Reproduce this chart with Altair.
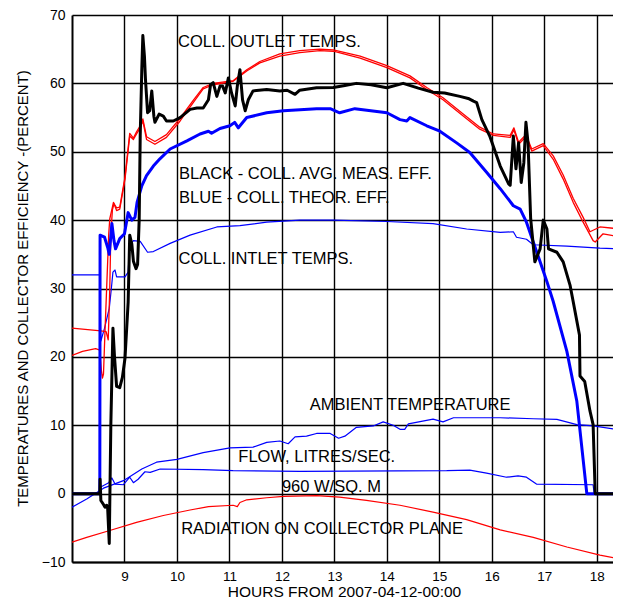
import altair as alt
import pandas as pd

# ---------------- data ----------------
BLACK_H = [8.0, 8.53, 8.535, 8.55, 8.60, 8.63, 8.66, 8.68, 8.71, 8.74, 8.78, 8.81, 8.85, 8.91, 8.96,
           9.01, 9.07, 9.10, 9.14, 9.17, 9.22, 9.25, 9.28, 9.30, 9.33, 9.35, 9.38, 9.40, 9.44, 9.48,
           9.52, 9.56, 9.58, 9.66, 9.74, 9.80, 9.93, 10.06, 10.25, 10.38, 10.5, 10.6, 10.64, 10.69,
           10.76, 10.82, 10.87, 10.92, 10.98, 11.04, 11.11, 11.15, 11.20, 11.25, 11.30, 11.36, 11.45,
           11.71, 11.96, 12.1, 12.25, 12.34, 12.66, 12.98, 13.2, 13.42, 13.7, 14.0, 14.31, 14.6,
           14.88, 15.1, 15.39, 15.55, 15.65, 15.71, 15.81, 15.96, 16.16, 16.32, 16.35, 16.41, 16.46,
           16.51, 16.56, 16.61, 16.65, 16.69, 16.74, 16.82, 16.92, 16.98, 17.05, 17.08, 17.24, 17.36,
           17.49, 17.55, 17.67, 17.68, 17.77, 17.87, 17.93, 17.97, 18.46]
BLACK_V = [0, 0, 2.1, -1.0, -1.6, -2.0, -1.7, -2.2, -7.3, 10, 24.2, 20, 15.7, 15.5, 17,
           19.8, 28, 37.8, 36.5, 34, 32.9, 33.5, 40, 52.4, 62, 67.0, 64, 60.6, 55.7, 56,
           58.9, 55.2, 54.3, 55.5, 55.2, 54.5, 54.5, 55.0, 56.2, 56.4, 56.4, 57.6, 59.8, 60.1,
           58.1, 59.6, 59.6, 58.6, 60.8, 58.6, 56.7, 59.6, 62.0, 57.6, 56.0, 57.6, 58.9,
           59.1, 58.9, 59.0, 58.4, 59.0, 59.35, 59.4, 59.7, 60.0, 59.8, 59.35, 60.0, 59.3,
           58.7, 58.6, 58.1, 57.8, 57.4, 57.2, 54.7, 52.3, 47.9, 45.3, 45.1, 52.3, 47.5,
           51.3, 45.5, 48.4, 54.3, 51.3, 40.2, 33.9, 35.8, 40.0, 38.7, 35.8, 35.3, 33.9,
           30.5, 28.1, 23.2, 17.2, 16.4, 12.1, 10.1, 0, 0]

THEOR_H = [8.0, 8.53, 8.535, 8.62, 8.68, 8.71, 8.76, 8.80, 8.83, 8.91, 9.0, 9.07, 9.14, 9.2, 9.24,
           9.33, 9.42, 9.55, 9.68, 9.87, 10.19, 10.44, 10.6, 10.66, 10.82, 11.01, 11.1, 11.17, 11.33,
           11.71, 12.03, 12.66, 12.92, 13.1, 13.39, 14.0, 14.25, 14.38, 14.44, 14.76, 15.01, 15.33,
           15.58, 15.9, 16.16, 16.41, 16.54, 16.66, 16.79, 16.92, 17.05, 17.17, 17.43, 17.62, 17.81, 18.46]
THEOR_V = [0, 0, 37.8, 37.5, 36.0, 35.0, 39.5, 37.0, 35.8, 37.3, 38.0, 41.1, 40.0, 40.4, 42.6,
           45.0, 46.5, 47.9, 49.0, 50.4, 51.6, 52.6, 53.0, 52.7, 53.4, 53.8, 54.3, 53.5, 55.0,
           55.7, 56.0, 56.3, 56.3, 55.7, 56.3, 55.7, 54.7, 54.5, 55.0, 53.8, 53.0, 51.3,
           49.9, 47.0, 44.6, 42.1, 41.6, 39.7, 36.8, 33.9, 31.0, 28.1, 20.8, 13.5, 0, 0]

OUT_A_H = [8.0, 8.2, 8.45, 8.53, 8.56, 8.58, 8.60, 8.63, 8.66, 8.70, 8.72, 8.79, 8.85, 8.91, 9.01,
           9.10, 9.17, 9.23, 9.30, 9.35, 9.42, 9.58, 9.80, 10.06, 10.31, 10.5, 10.69, 11.07, 11.33,
           11.58, 11.96, 12.34, 12.72, 12.98, 13.49, 14.0, 14.44, 14.76, 15.07, 15.46, 15.77, 16.03,
           16.35, 16.42, 16.51, 16.65, 16.76, 16.98, 17.17, 17.36, 17.55, 17.74, 17.93, 17.97, 18.12, 18.46]
OUT_A_V = [20.2, 20.8, 21.2, 21.0, 18.0, 16.9, 17.5, 24, 30, 38, 40.2, 42.6, 41.4, 41.6, 46,
           52.3, 51.8, 52.6, 53.5, 54.5, 51.8, 51.1, 52.1, 54.5, 57.2, 59.2, 59.8, 60.3, 61.8,
           63.0, 64.0, 64.5, 64.8, 64.7, 63.7, 62.3, 60.8, 59.1, 57.6, 55.2, 53.3, 52.4,
           52.1, 53.2, 51.1, 52.2, 50.1, 50.9, 48.9, 46.0, 42.6, 39.7, 37.0, 36.8, 38.0, 37.5]

OUT_B_H = [8.0, 8.3, 8.55, 8.65, 8.69, 8.72, 8.74, 8.77, 8.80, 8.85, 8.91, 9.01, 9.10, 9.17, 9.23,
           9.30, 9.35, 9.42, 9.58, 9.80, 10.06, 10.31, 10.5, 10.69, 11.07, 11.33, 11.58, 11.96, 12.34,
           12.72, 12.98, 13.49, 14.0, 14.44, 14.76, 15.07, 15.46, 15.77, 16.03, 16.35, 16.42, 16.51,
           16.65, 16.76, 16.98, 17.17, 17.36, 17.55, 17.74, 17.87, 18.06, 18.46]
OUT_B_V = [24.2, 24.0, 23.8, 23.7, 22.5, 30, 38, 41.5, 42.4, 41.8, 41.9, 46.3, 52.7, 52.0, 52.9,
           53.8, 54.8, 52.2, 51.5, 52.5, 54.9, 57.5, 59.4, 60.0, 60.4, 62.0, 63.2, 64.3, 64.8,
           65.0, 64.9, 64.0, 62.6, 61.1, 59.4, 57.9, 55.5, 53.6, 52.6, 52.4, 53.5, 51.4,
           52.5, 50.4, 51.2, 49.4, 46.6, 43.2, 40.4, 38.3, 39.0, 38.7]

INLET_H = [8.0, 8.53, 8.55, 8.62, 8.71, 8.75, 8.78, 8.82, 8.85, 9.01, 9.07, 9.10, 9.17, 9.30, 9.44,
           9.55, 9.87, 10.25, 10.76, 11.2, 11.71, 12.34, 12.98, 14.0, 14.88, 15.52, 16.16, 16.41,
           16.47, 16.66, 16.79, 17.43, 18.06, 18.46]
INLET_V = [32.0, 32.0, 22.3, 24.2, 27.1, 30.0, 32.4, 32.7, 31.7, 31.7, 32.4, 36.3, 37.0, 36.9, 35.3,
           35.4, 36.6, 37.8, 39.0, 39.2, 39.7, 40.0, 40.0, 39.8, 39.5, 38.7, 38.2, 38.3,
           37.5, 37.2, 36.4, 36.2, 35.9, 35.8]

AMB_H = [8.0, 8.28, 8.6, 8.98, 9.33, 9.61, 10.0, 10.5, 11.01, 11.45, 11.71, 11.96, 12.12, 12.25,
         12.47, 12.66, 12.92, 13.08, 13.2, 13.42, 13.74, 13.93, 14.12, 14.25, 14.34, 14.41, 14.88,
         15.07, 15.27, 16.16, 16.79, 17.24, 17.62, 17.93, 18.46]
AMB_V = [-2.0, -0.8, 0.8, 1.9, 3.6, 4.6, 5.0, 6.0, 6.7, 6.8, 7.5, 7.7, 7.3, 8.3,
         8.4, 8.8, 8.8, 8.1, 8.4, 9.7, 9.9, 10.5, 10.0, 9.4, 9.4, 10.2, 10.9,
         10.5, 11.1, 11.1, 10.95, 10.85, 10.1, 9.9, 9.3]

FLOW_H = [8.0, 8.52, 8.53, 8.70, 8.76, 8.82, 8.98, 9.10, 9.17, 9.26, 9.39, 9.49, 9.68, 10.5, 11.07,
          12.34, 15.14, 15.58, 15.9, 16.28, 16.5, 16.66, 16.85, 17.93, 17.95]
FLOW_V = [0, 0, 0.9, 1.6, 2.3, 1.4, 1.3, 2.4, 1.6, 2.1, 3.2, 3.1, 3.6, 3.5, 3.35,
          3.25, 3.35, 3.45, 3.0, 2.4, 2.6, 2.4, 1.4, 1.3, 0]

RAD_H = [8.0, 8.28, 8.72, 9.23, 9.74, 10.25, 10.6, 11.07, 11.15, 11.2, 11.33, 11.71, 12.03, 12.66,
         13.1, 13.61, 14.25, 14.88, 15.52, 16.16, 16.79, 17.43, 18.06, 18.46]
RAD_V = [-7.1, -6.4, -5.4, -4.2, -3.2, -2.4, -1.9, -1.7, -1.9, -1.3, -0.9, -0.6, -0.4, -0.3,
         -0.5, -1.0, -1.7, -2.7, -3.8, -5.3, -6.4, -7.8, -9.0, -9.6]

LABEL_TEXT = ["COLL. OUTLET TEMPS.", "BLACK - COLL. AVG. MEAS. EFF.", "BLUE - COLL. THEOR. EFF.",
              "COLL. INTLET TEMPS.", "AMBIENT TEMPERATURE", "FLOW, LITRES/SEC.", "960 W/SQ. M",
              "RADIATION ON COLLECTOR PLANE"]
LABEL_H = [10.02, 10.04, 10.04, 10.03, 12.53, 11.17, 12.0, 10.08]
LABEL_V = [66.1, 46.7, 43.3, 34.25, 12.9, 5.3, 1.0, -5.2]

X_TICKS = [9, 10, 11, 12, 13, 14, 15, 16, 17, 18]
Y_TICKS = [-10, 0, 10, 20, 30, 40, 50, 60, 70]


def frame(name, hs, vs):
    return pd.DataFrame({"hour": hs, "value": vs, "series": name, "idx": list(range(len(hs)))})


FONT = "Liberation Sans"

X = alt.X("hour:Q",
          scale=alt.Scale(domain=[8, 18.309], nice=False, zero=False),
          axis=alt.Axis(values=X_TICKS, title="HOURS FROM 2007-04-12-00:00",
                        labelFontSize=13.5, labelFont=FONT, labelColor="black", labelPadding=7,
                        titleFont=FONT, titleFontSize=15.5, titleFontWeight="normal", titleColor="black",
                        titleX=272, titleY=29, titleBaseline="middle", titleAlign="center",
                        domainColor="black", domainWidth=2, ticks=False,
                        grid=True, gridColor="black", gridWidth=1.4, gridOpacity=1))
Y = alt.Y("value:Q",
          scale=alt.Scale(domain=[-10, 70], nice=False, zero=False),
          axis=alt.Axis(values=Y_TICKS, title="TEMPERATURES AND COLLECTOR EFFICIENCY -(PERCENT)",
                        labelFontSize=14, labelFont=FONT, labelColor="black", labelPadding=7,
                        titleFont=FONT, titleFontSize=15, titleFontWeight="normal", titleColor="black",
                        titleX=-50, titleY=273, titleAngle=-90, titleBaseline="middle", titleAlign="center",
                        domainColor="black", domainWidth=2, ticks=False,
                        grid=True, gridColor="black", gridWidth=1.4, gridOpacity=1))

thin_blue_df = pd.concat([frame("inlet", INLET_H, INLET_V), frame("ambient", AMB_H, AMB_V),
                          frame("flow", FLOW_H, FLOW_V)])
red_out_df = pd.concat([frame("outA", OUT_A_H, OUT_A_V), frame("outB", OUT_B_H, OUT_B_V)])
rad_df = frame("rad", RAD_H, RAD_V)
theor_df = frame("theor", THEOR_H, THEOR_V)
black_df = frame("meas", BLACK_H, BLACK_V)
labels_df = pd.DataFrame({"hour": LABEL_H, "value": LABEL_V, "label": LABEL_TEXT})


def lines(df, color, width):
    return alt.Chart(df).mark_line(color=color, strokeWidth=width, clip=True,
                                   strokeJoin="round").encode(
        x=X, y=Y, detail="series:N", order="idx:Q")


layers = [
    lines(rad_df, "#ff0000", 1.2),
    lines(thin_blue_df, "#0000ff", 1.2),
    lines(red_out_df, "#ff0000", 1.3),
    lines(theor_df, "#0000ff", 3),
    lines(black_df, "#000000", 3),
    alt.Chart(labels_df).mark_text(align="left", baseline="middle", font=FONT, fontSize=16.5,
                                   color="black").encode(x=X, y=Y, text="label:N"),
]

chart = alt.layer(*layers).properties(
    width=541, height=547,
    autosize=alt.AutoSizeParams(type="none"),
    padding={"left": 64, "top": 7, "right": 0, "bottom": 37},
    background="white",
).configure_view(strokeWidth=0)

chart.save("out.html", embed_options={"renderer": "svg", "actions": False})
